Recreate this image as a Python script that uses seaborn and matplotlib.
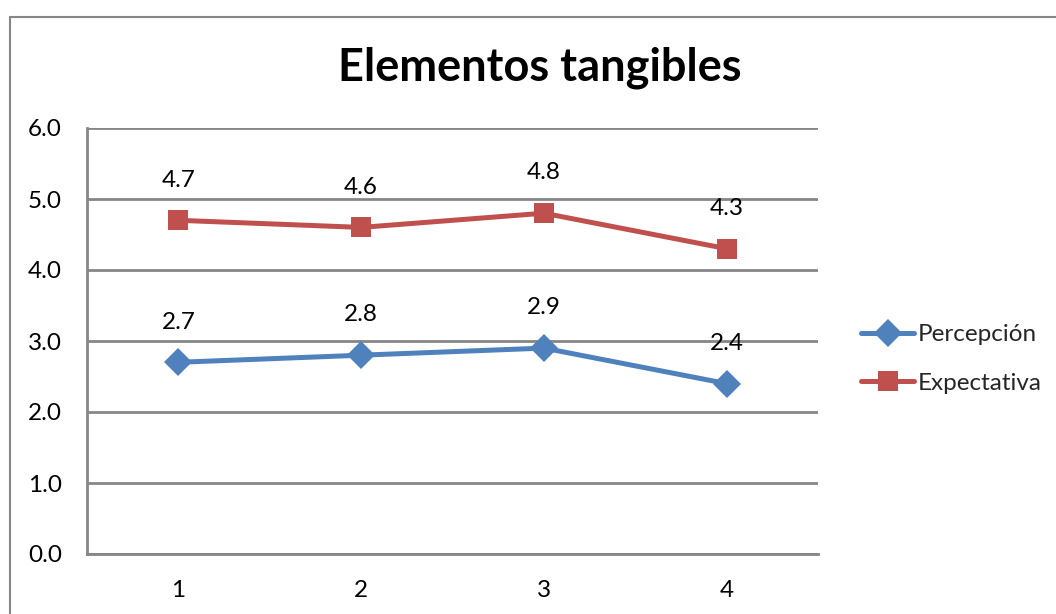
import matplotlib
matplotlib.use("Agg")
import matplotlib.pyplot as plt
from matplotlib.lines import Line2D
import seaborn as sns
import pandas as pd

# Survey dimension: tangible elements, items 1-4
items = ["1", "2", "3", "4"]
percepcion = [2.7, 2.8, 2.9, 2.4]
expectativa = [4.7, 4.6, 4.8, 4.3]
series_names = ["Percepción", "Expectativa"]
y_ticks = [0, 1, 2, 3, 4, 5, 6]

colors = {"Percepción": "#4F81BD", "Expectativa": "#C0504D"}
markers = {"Percepción": "D", "Expectativa": "s"}
marker_sizes = {"Percepción": 14, "Expectativa": 14}
grid_gray = "#868686"
text_size = 17.5

df = pd.DataFrame({
    "item": items * 2,
    "valor": percepcion + expectativa,
    "serie": [series_names[0]] * len(items) + [series_names[1]] * len(items),
})

sns.set_theme(style="white")
plt.rcParams["font.family"] = ["Lato", "DejaVu Sans"]

fig = plt.figure(figsize=(10.56, 6.14), dpi=100)
ax = fig.add_axes([87 / 1056, 1 - 554 / 614, (818 - 87) / 1056, (554 - 128) / 614])

sns.lineplot(data=df, x="item", y="valor", hue="serie", style="serie",
             palette=colors, markers=markers, dashes=False, linewidth=3.6,
             markersize=14, markeredgewidth=0, sort=False, ax=ax, legend=False)

ax.set_xlim(-0.5, len(items) - 0.5)
ax.set_ylim(0, 6)
ax.set_yticks(y_ticks)
ax.set_yticklabels([f"{v:.1f}" for v in y_ticks])
ax.set_xlabel("")
ax.set_ylabel("")
ax.yaxis.grid(True, color=grid_gray, linewidth=2)
ax.xaxis.grid(False)
ax.set_axisbelow(True)
for side in ["top", "right"]:
    ax.spines[side].set_visible(False)
for side in ["left", "bottom"]:
    ax.spines[side].set_color(grid_gray)
    ax.spines[side].set_linewidth(2)
ax.tick_params(axis="both", length=0, labelsize=text_size, colors="black")
ax.tick_params(axis="x", pad=19)
ax.tick_params(axis="y", pad=18)

# Value labels above each point
for name, vals in zip(series_names, [percepcion, expectativa]):
    for i, v in enumerate(vals):
        ax.annotate(f"{v:.1f}", (i, v), xytext=(0, 29), textcoords="offset points",
                    ha="center", va="center", fontsize=text_size, color="black")

handles = [Line2D([], [], color=colors[n], marker=markers[n], linewidth=3.6,
                  markersize=marker_sizes[n], markeredgewidth=0)
           for n in series_names]
fig.legend(handles, series_names, loc="center left",
           bbox_to_anchor=(839 / 1056, 1 - 359 / 614), frameon=False,
           fontsize=text_size, handlelength=2.2, handletextpad=0.12, labelspacing=1.12)

fig.text(540 / 1056, 1 - 68 / 614, "Elementos tangibles", ha="center", va="center",
         fontsize=32.5, fontweight="bold", color="black")

# Chart frame
fig.add_artist(Line2D([9.5 / 1056, 9.5 / 1056], [0, 1 - 16.5 / 614],
                      transform=fig.transFigure, color=grid_gray, linewidth=1.5))
fig.add_artist(Line2D([9.5 / 1056, 1], [1 - 16.5 / 614, 1 - 16.5 / 614],
                      transform=fig.transFigure, color=grid_gray, linewidth=1.5))

fig.savefig("out.png", dpi=100)
